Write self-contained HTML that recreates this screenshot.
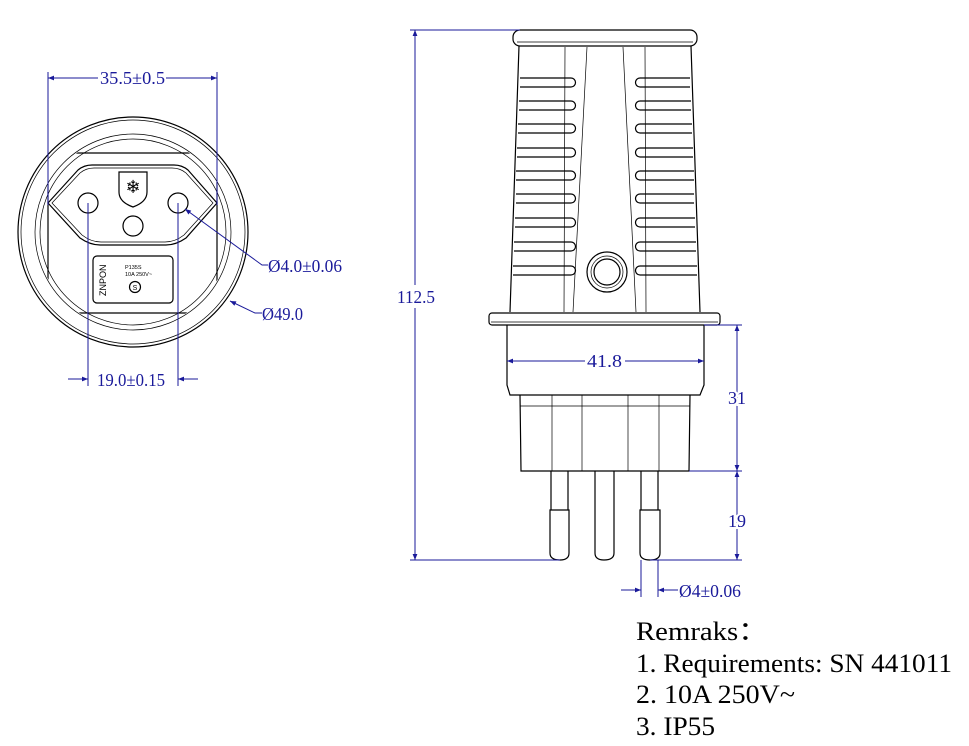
<!DOCTYPE html>
<html><head><meta charset="utf-8"><style>
html,body{margin:0;padding:0;background:#fff;}
svg{display:block;}
.b{fill:none;stroke:#000;stroke-width:1.2}
.t{fill:none;stroke:#000;stroke-width:0.7}
.d{fill:none;stroke:#1a1a9a;stroke-width:1}
.dt{font-family:"Liberation Serif",serif;font-size:18px;fill:#1a1a9a}
.r{font-family:"Liberation Serif",serif;font-size:26px;fill:#000}
</style></head><body>
<svg width="969" height="746" viewBox="0 0 969 746" xmlns="http://www.w3.org/2000/svg">
<defs>
<marker id="a" viewBox="0 0 10 10" refX="10" refY="5" markerWidth="9" markerHeight="6" orient="auto-start-reverse" markerUnits="userSpaceOnUse"><path d="M0,1 L10,5 L0,9 z" fill="#1a1a9a"/></marker>
<clipPath id="cc"><circle cx="133" cy="232" r="97"/></clipPath>
</defs>
<!-- LEFT VIEW -->
<circle cx="133" cy="232" r="115" class="b"/>
<circle cx="133" cy="232" r="112" class="t"/>
<circle cx="133" cy="232" r="98" class="t"/>
<circle cx="133" cy="232" r="93" class="t"/>
<path d="M60,153 L206,153 Q217,153 217,165 L217,303 Q217,313 206,313 L60,313 Q48,313 48,303 L48,165 Q48,153 60,153 Z" class="b" clip-path="url(#cc)"/>
<path d="M48,203 L78,170 Q84,165 92,165 L174,165 Q182,165 188,170 L217,203 L186,238 Q176,245 166,245 L100,245 Q90,245 80,238 Z" class="b"/>
<path d="M52,203 L80,173 Q86,168 94,168 L172,168 Q180,168 186,173 L213,203 L184,235 Q175,242 165,242 L101,242 Q91,242 82,235 Z" class="t"/>
<circle cx="88" cy="203" r="10" class="b"/>
<circle cx="178" cy="203" r="10" class="b"/>
<circle cx="133" cy="226" r="10" class="b"/>
<path d="M119,172 L147,172 L147,192 Q147,202 133,207 Q119,202 119,192 Z" class="b"/>
<text x="133" y="193" text-anchor="middle" font-size="18" font-family="DejaVu Sans">❄</text>
<rect x="93" y="256" width="80" height="47" rx="4" class="b"/>
<text x="0" y="0" transform="translate(106,296) rotate(-90)" font-family="Liberation Sans" font-size="9">ZNPON</text>
<text x="125" y="269" font-family="Liberation Sans" font-size="5.5">P135S</text>
<text x="125" y="276" font-family="Liberation Sans" font-size="5.5">10A 250V~</text>
<circle cx="135" cy="287" r="5.5" class="b"/>
<text x="135" y="290" text-anchor="middle" font-family="Liberation Sans" font-size="7">S</text>
<!-- left dims -->
<line x1="48" y1="72" x2="48" y2="205" class="d"/>
<line x1="217" y1="72" x2="217" y2="205" class="d"/>
<line x1="48" y1="78" x2="98" y2="78" class="d" marker-start="url(#a)"/>
<line x1="166" y1="78" x2="217" y2="78" class="d" marker-end="url(#a)"/>
<text x="100" y="84" class="dt" textLength="65" lengthAdjust="spacingAndGlyphs">35.5±0.5</text>
<line x1="88" y1="203" x2="88" y2="386" class="d"/>
<line x1="178" y1="203" x2="178" y2="386" class="d"/>
<line x1="68" y1="379" x2="88" y2="379" class="d" marker-end="url(#a)"/>
<line x1="198" y1="379" x2="178" y2="379" class="d" marker-end="url(#a)"/>
<text x="97" y="386" class="dt" textLength="68" lengthAdjust="spacingAndGlyphs">19.0±0.15</text>
<path d="M268,265 L262,265 L185,209" class="d" marker-end="url(#a)"/>
<text x="268" y="272" class="dt" textLength="74" lengthAdjust="spacingAndGlyphs">Ø4.0±0.06</text>
<path d="M262,313 L255,313 L230,301" class="d" marker-end="url(#a)"/>
<text x="262" y="320" class="dt" textLength="41" lengthAdjust="spacingAndGlyphs">Ø49.0</text>
<!-- RIGHT VIEW -->
<rect x="513" y="30" width="184" height="16" rx="7" class="b"/>
<line x1="517" y1="42" x2="693" y2="42" class="t"/>
<path d="M519,46 L510,312 M691,46 L700,312" class="b"/>
<path d="M565,47 L564,312 M587,47 L573,312 M623,47 L636,312 M645,47 L646,312" class="t"/>
<g class="b">
<path d="M520,78 L571,78 A4.5,4.5 0 0 1 571,87 L520,87"/>
<path d="M519,101 L571,101 A4.5,4.5 0 0 1 571,110 L519,110"/>
<path d="M518,124 L571,124 A4.5,4.5 0 0 1 571,133 L518,133"/>
<path d="M517,148 L571,148 A4.5,4.5 0 0 1 571,157 L517,157"/>
<path d="M516,171 L571,171 A4.5,4.5 0 0 1 571,180 L516,180"/>
<path d="M516,194 L571,194 A4.5,4.5 0 0 1 571,203 L516,203"/>
<path d="M515,218 L571,218 A4.5,4.5 0 0 1 571,227 L515,227"/>
<path d="M514,242 L571,242 A4.5,4.5 0 0 1 571,251 L514,251"/>
<path d="M513,266 L571,266 A4.5,4.5 0 0 1 571,275 L513,275"/>
<path d="M690,78 L640,78 A4.5,4.5 0 0 0 640,87 L690,87"/>
<path d="M691,101 L640,101 A4.5,4.5 0 0 0 640,110 L691,110"/>
<path d="M692,124 L640,124 A4.5,4.5 0 0 0 640,133 L692,133"/>
<path d="M693,148 L640,148 A4.5,4.5 0 0 0 640,157 L693,157"/>
<path d="M694,171 L640,171 A4.5,4.5 0 0 0 640,180 L694,180"/>
<path d="M694,194 L640,194 A4.5,4.5 0 0 0 640,203 L694,203"/>
<path d="M695,218 L640,218 A4.5,4.5 0 0 0 640,227 L695,227"/>
<path d="M696,242 L640,242 A4.5,4.5 0 0 0 640,251 L696,251"/>
<path d="M697,266 L640,266 A4.5,4.5 0 0 0 640,275 L697,275"/>
</g>
<circle cx="607" cy="272" r="20" class="b"/>
<circle cx="607" cy="272" r="16" class="t"/>
<circle cx="607" cy="272" r="13" class="b"/>
<rect x="489" y="313" width="231" height="12" rx="3" class="b"/>
<line x1="491" y1="322" x2="718" y2="322" class="t"/>
<path d="M507,325 L507,385 L510,395 L700,395 L704,385 L704,325" class="b"/>
<path d="M520,395 L521,471 L689,471 L690,395" class="b"/>
<line x1="520" y1="406" x2="690" y2="406" class="t"/>
<path d="M552,395 L552,471 M582,395 L582,471 M628,395 L628,471 M659,395 L659,471" class="t"/>
<path d="M551,471 L551,510 M568,471 L568,510 M550,510 L569,510 L569,553 Q569,560 560,560 Q550,560 550,553 Z" class="b"/>
<path d="M595,471 L595,553 Q595,560 604,560 Q614,560 614,553 L614,471" class="b"/>
<path d="M641,471 L641,510 M658,471 L658,510 M640,510 L660,510 L660,553 Q660,560 650,560 Q640,560 640,553 Z" class="b"/>
<!-- right dims -->
<line x1="410" y1="30" x2="520" y2="30" class="d"/>
<line x1="410" y1="560" x2="560" y2="560" class="d"/>
<line x1="415" y1="30" x2="415" y2="285" class="d" marker-start="url(#a)"/>
<line x1="415" y1="308" x2="415" y2="560" class="d" marker-end="url(#a)"/>
<text x="397" y="303" class="dt" textLength="38" lengthAdjust="spacingAndGlyphs">112.5</text>
<line x1="507" y1="361" x2="585" y2="361" class="d" marker-start="url(#a)"/>
<line x1="625" y1="361" x2="704" y2="361" class="d" marker-end="url(#a)"/>
<text x="587" y="367" class="dt" textLength="35" lengthAdjust="spacingAndGlyphs">41.8</text>
<line x1="704" y1="325" x2="742" y2="325" class="d"/>
<line x1="689" y1="471" x2="742" y2="471" class="d"/>
<line x1="650" y1="560" x2="742" y2="560" class="d"/>
<line x1="737" y1="325" x2="737" y2="471" class="d" marker-start="url(#a)" marker-end="url(#a)"/>
<text x="728" y="404" class="dt" textLength="18" lengthAdjust="spacingAndGlyphs" style="paint-order:stroke;stroke:#fff;stroke-width:4">31</text>
<line x1="737" y1="471" x2="737" y2="560" class="d" marker-start="url(#a)" marker-end="url(#a)"/>
<text x="728" y="527" class="dt" textLength="18" lengthAdjust="spacingAndGlyphs" style="paint-order:stroke;stroke:#fff;stroke-width:4">19</text>
<line x1="641" y1="560" x2="641" y2="597" class="d"/>
<line x1="658" y1="560" x2="658" y2="597" class="d"/>
<line x1="621" y1="590" x2="641" y2="590" class="d" marker-end="url(#a)"/>
<line x1="678" y1="590" x2="658" y2="590" class="d" marker-end="url(#a)"/>
<text x="679" y="597" class="dt" textLength="62" lengthAdjust="spacingAndGlyphs">Ø4±0.06</text>
<!-- remarks -->
<text x="636" y="640" class="r" textLength="131" lengthAdjust="spacingAndGlyphs">Remraks：</text>
<text x="636" y="672" class="r" textLength="316" lengthAdjust="spacingAndGlyphs">1. Requirements: SN 441011</text>
<text x="636" y="703" class="r" textLength="159" lengthAdjust="spacingAndGlyphs">2. 10A 250V~</text>
<text x="636" y="735" class="r" textLength="79" lengthAdjust="spacingAndGlyphs">3. IP55</text>
</svg>
</body></html>
